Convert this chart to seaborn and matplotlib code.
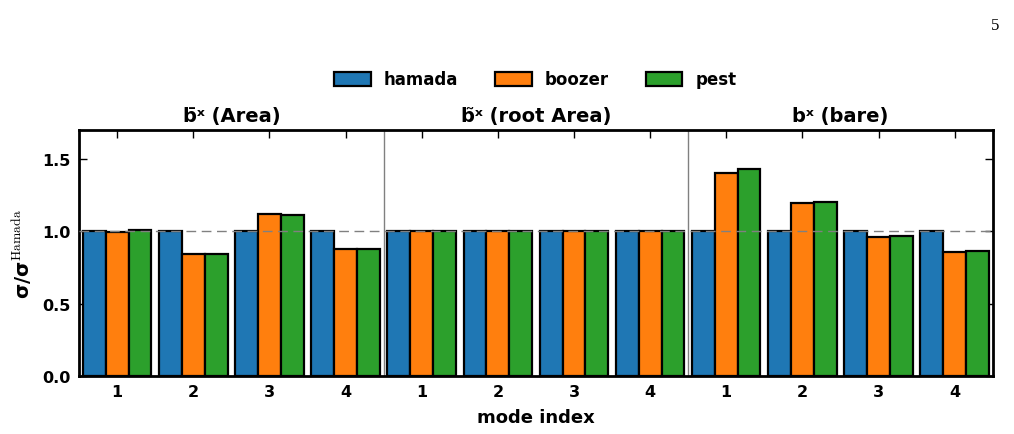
import numpy as np
import pandas as pd
import matplotlib
matplotlib.use("Agg")
import matplotlib.pyplot as plt
import matplotlib.transforms as mtransforms
import seaborn as sns

# ratios sigma / sigma^Hamada, per variable (Area, root Area, bare) and mode 1..4
methods = ["hamada", "boozer", "pest"]
panels = ["b\u0304\u02e3 (Area)", "b\u0303\u02e3 (root Area)", "b\u02e3 (bare)"]
modes = ["1", "2", "3", "4"]

hamada = [1.0, 1.0, 1.0, 1.0,  1.0, 1.0, 1.0, 1.0,  1.0, 1.0, 1.0, 1.0]
boozer = [0.998, 0.846, 1.122, 0.880,  1.0, 1.0, 1.0, 1.0,  1.405, 1.198, 0.963, 0.860]
pest = [1.007, 0.842, 1.110, 0.876,  1.0, 1.0, 1.0, 1.0,  1.432, 1.202, 0.970, 0.864]

positions = list(range(12))
df = pd.DataFrame({
    "pos": positions * 3,
    "ratio": hamada + boozer + pest,
    "method": sum([[m] * 12 for m in methods], []),
})

sns.set_style("ticks")
plt.rcParams["font.family"] = ["DejaVu Sans"]
plt.rcParams["font.weight"] = "bold"
plt.rcParams["mathtext.fontset"] = "cm"
plt.rcParams["xtick.direction"] = "in"
plt.rcParams["ytick.direction"] = "in"
for k in ["text.color", "axes.labelcolor", "xtick.color", "ytick.color", "axes.edgecolor"]:
    plt.rcParams[k] = "black"

fig = plt.figure(figsize=(10.14, 4.35), dpi=100)
ax = fig.add_axes([0.078, 0.1333, 0.901, 0.5656])

sns.barplot(data=df, x="pos", y="ratio", hue="method", hue_order=methods,
            palette=["#1f77b4", "#ff7f0e", "#2ca02c"], saturation=1, width=0.9,
            edgecolor="black", linewidth=1.6, ax=ax, zorder=2)

ax.axhline(1.0, color="gray", ls=(0, (7, 4)), lw=1, zorder=3)
for xv in [3.5, 7.5]:
    ax.axvline(xv, color="gray", lw=1, zorder=1)

ax.set_xlim(-0.5, 11.5)
ax.set_ylim(0, 1.7)
ax.set_yticks([0.0, 0.5, 1.0, 1.5])
ax.set_yticklabels(["0.0", "0.5", "1.0", "1.5"], fontsize=11.5, fontweight="bold")
ax.set_xticks(positions)
ax.set_xticklabels(modes * 3, fontsize=11.5, fontweight="bold")
ax.tick_params(axis="both", which="major", length=6, width=1, top=True, right=True,
               pad=6)
for sp in ax.spines.values():
    sp.set_linewidth(2)
    sp.set_visible(True)

ax.set_xlabel("mode index", fontsize=13, fontweight="bold", labelpad=6)
ax.set_ylabel(r"σ/σ$^{\mathrm{Hamada}}$", fontsize=14, fontweight="bold", labelpad=6)

trans = mtransforms.blended_transform_factory(ax.transData, ax.transAxes)
for i, title in enumerate(panels):
    ax.text(1.5 + 4 * i, 1.02, title, transform=trans, ha="center", va="bottom",
            fontsize=14, fontweight="bold")

handles, labels = ax.get_legend_handles_labels()
if ax.legend_:
    ax.legend_.remove()
fig.legend(handles, labels, loc="center", bbox_to_anchor=(0.528, 0.815), ncol=3,
           frameon=False, handlelength=2.2, handleheight=0.9, columnspacing=2.2,
           prop={"weight": "bold", "size": 12})

fig.text(0.986, 0.94, "5", family="Liberation Serif", fontsize=12,
         fontweight="normal", ha="right", va="center")

fig.savefig("out.png", dpi=100)
